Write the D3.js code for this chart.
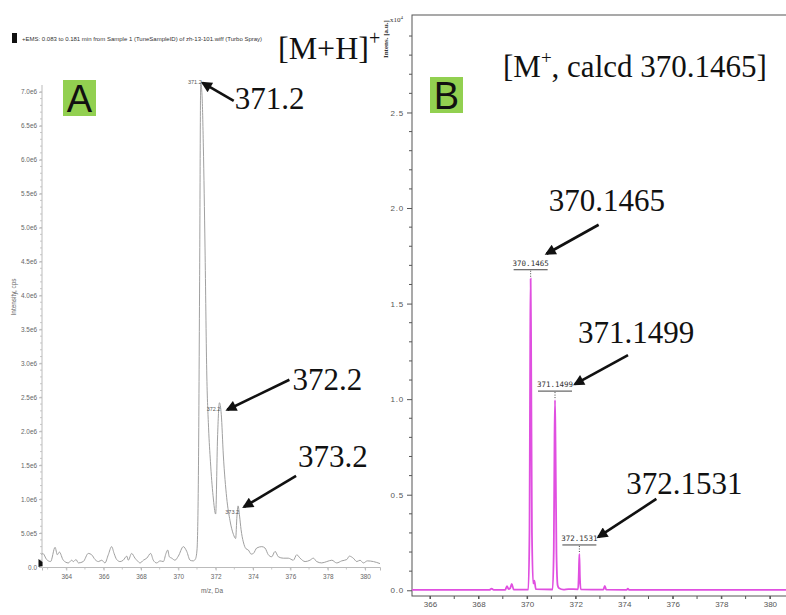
<!DOCTYPE html>
<html><head><meta charset="utf-8">
<script src="https://cdn.jsdelivr.net/npm/d3@7"></script>
<style>
body{margin:0;background:#fff;}
svg{display:block;}
</style></head><body>
<svg id="chart" width="786" height="615"></svg>
<script>
// ---------- Panel A: ESI-MS profile (m/z vs intensity, cps) ----------
const esiMz = [362.68,362.74,362.95,363.16,363.40,363.52,363.63,363.84,364.11,364.29,364.38,364.52,364.65,364.91,
  365.18,365.36,365.54,365.72,365.90,366.07,366.25,366.43,366.56,366.70,366.88,367.05,367.24,367.32,367.50,367.68,
  367.81,367.95,368.13,368.31,368.52,368.66,368.84,369.02,369.20,369.34,369.43,369.52,369.65,369.82,370.00,370.27,
  370.45,370.63,370.80,370.92,371.00,371.08,371.14,371.20,371.27,371.34,371.43,371.52,371.62,371.72,371.86,372.00,
  372.10,372.20,372.30,372.41,372.59,372.77,372.95,373.07,373.14,373.20,373.28,373.36,373.48,373.62,373.75,373.90,
  374.02,374.20,374.47,374.64,374.82,375.00,375.18,375.36,375.62,375.89,376.16,376.34,376.52,376.79,377.05,377.23,
  377.41,377.68,377.95,378.22,378.48,378.75,379.02,379.16,379.37,379.56,379.73,379.91,380.12,380.45,380.80];
const esiIntensity = [0.18e6,0.20e6,0.11e6,0.08e6,0.29e6,0.18e6,0.22e6,0.10e6,0.06e6,0.10e6,0.08e6,0.11e6,0.06e6,0.08e6,
  0.20e6,0.18e6,0.11e6,0.08e6,0.10e6,0.06e6,0.18e6,0.30e6,0.20e6,0.11e6,0.08e6,0.10e6,0.16e6,0.10e6,0.20e6,0.13e6,
  0.09e6,0.06e6,0.10e6,0.13e6,0.20e6,0.10e6,0.06e6,0.09e6,0.08e6,0.20e6,0.25e6,0.15e6,0.13e6,0.10e6,0.16e6,0.30e6,
  0.23e6,0.10e6,0.09e6,0.12e6,0.25e6,1.50e6,4.20e6,7.13e6,6.95e6,6.20e6,4.70e6,2.90e6,2.05e6,1.55e6,1.05e6,0.78e6,
  1.90e6,2.42e6,2.25e6,1.65e6,1.02e6,0.68e6,0.48e6,0.42e6,0.75e6,0.90e6,0.75e6,0.55e6,0.37e6,0.27e6,0.25e6,0.19e6,
  0.20e6,0.28e6,0.30e6,0.28e6,0.18e6,0.15e6,0.23e6,0.15e6,0.13e6,0.13e6,0.10e6,0.18e6,0.13e6,0.08e6,0.10e6,0.13e6,
  0.08e6,0.06e6,0.08e6,0.10e6,0.06e6,0.09e6,0.11e6,0.16e6,0.13e6,0.08e6,0.10e6,0.06e6,0.09e6,0.08e6,0.05e6];
const esiPeakMz = [371.2, 372.2, 373.2];
const esiPeakIntensity = [7.13e6, 2.42e6, 0.90e6];
const esiPeakLabels = ["371.2", "372.2", "373.2"];
const esiYTicks = [0,5e5,1e6,1.5e6,2e6,2.5e6,3e6,3.5e6,4e6,4.5e6,5e6,5.5e6,6e6,6.5e6,7e6];
const esiYTickLabels = ["0.0","5.0e5","1.0e6","1.5e6","2.0e6","2.5e6","3.0e6","3.5e6","4.0e6","4.5e6","5.0e6","5.5e6","6.0e6","6.5e6","7.0e6"];
const esiXTicks = [364,366,368,370,372,374,376,378,380];
const esiXTickLabels = ["364","366","368","370","372","374","376","378","380"];

// ---------- Panel B: high-resolution MS profile (m/z vs intensity, a.u.) ----------
const hrMz = [365.26,368.45,368.54,368.62,369.10,369.17,369.24,369.30,369.37,369.45,370.05,370.10,370.13,370.1465,
  370.165,370.20,370.25,370.30,370.36,371.05,371.10,371.13,371.1499,371.17,371.21,371.26,371.32,371.50,371.70,
  372.10,372.13,372.1531,372.175,372.21,373.14,373.20,373.26,374.10,374.15,374.20,381.30];
const hrIntensity = [20,20,90,20,20,220,60,100,330,30,30,3200,13200,16300,
  13000,3000,350,500,60,40,2200,8000,9950,7800,1900,250,100,30,60,
  50,900,1900,700,50,30,230,30,20,90,20,20];
const hrPeakMz = [370.1465, 371.1499, 372.1531];
const hrPeakIntensity = [16300, 9950, 1900];
const hrPeakLabels = ["370.1465", "371.1499", "372.1531"];
const hrYTicks = [0, 5000, 10000, 15000, 20000, 25000];
const hrYTickLabels = ["0.0", "0.5", "1.0", "1.5", "2.0", "2.5"];
const hrXTicks = [366,368,370,372,374,376,378,380];
const hrXTickLabels = ["366","368","370","372","374","376","378","380"];

const svg = d3.select("#chart");
svg.append("rect").attr("width", 786).attr("height", 615).attr("fill", "#fff");

const defs = svg.append("defs");
defs.append("marker").attr("id", "arrowHead")
  .attr("viewBox", "0 0 10 10").attr("refX", 8).attr("refY", 5)
  .attr("markerWidth", 14).attr("markerHeight", 11)
  .attr("markerUnits", "userSpaceOnUse").attr("orient", "auto")
  .append("path").attr("d", "M0,0 L10,5 L0,10 Z").attr("fill", "#111");

const sansFont = "'Liberation Sans', Arial, sans-serif";
const serifFont = "'Liberation Serif', 'Times New Roman', serif";
const monoFont = "'DejaVu Sans Mono', 'Liberation Mono', monospace";

// ================= Panel A =================
const xA = d3.scaleLinear().domain([362.7, 380.8]).range([42, 380]);
const yA = d3.scaleLinear().domain([0, 7.1e6]).range([567, 85]);
const gA = svg.append("g");

// header line
gA.append("rect").attr("x", 12).attr("y", 33).attr("width", 5).attr("height", 10).attr("fill", "#111");
gA.append("text").attr("x", 22).attr("y", 41).attr("font-family", sansFont).attr("font-size", 6)
  .attr("fill", "#333")
  .text("+EMS: 0.083 to 0.181 min from Sample 1 (TuneSampleID) of zh-13-101.wiff (Turbo Spray)");

// minor ticks
gA.append("g").selectAll("line").data(d3.range(1e5, 7.05e6, 1e5)).join("line")
  .attr("x1", 40).attr("x2", 42).attr("y1", d => yA(d)).attr("y2", d => yA(d))
  .attr("stroke", "#bbb").attr("stroke-width", 0.8);
gA.append("g").selectAll("line").data(d3.range(363, 381, 1)).join("line")
  .attr("x1", d => xA(d)).attr("x2", d => xA(d)).attr("y1", 567).attr("y2", 569.5)
  .attr("stroke", "#bbb").attr("stroke-width", 0.8);

const axA_y = gA.append("g").attr("transform", "translate(42,0)")
  .call(d3.axisLeft(yA).tickValues(esiYTicks).tickSize(3).tickPadding(2)
    .tickFormat((d, i) => esiYTickLabels[i]));
const axA_x = gA.append("g").attr("transform", "translate(0,567)")
  .call(d3.axisBottom(xA).tickValues(esiXTicks).tickSize(3.5).tickPadding(4)
    .tickFormat((d, i) => esiXTickLabels[i]));
[axA_y, axA_x].forEach(a => {
  a.select(".domain").attr("stroke", "#bbb");
  a.selectAll(".tick line").attr("stroke", "#bbb");
  a.selectAll("text").attr("font-family", sansFont).attr("font-size", 6.4).attr("fill", "#666");
});
axA_y.select(".domain").attr("d", "M0,85V567");

// small marker at origin
gA.append("path").attr("d", "M38.5,559 L42.5,562 L42.5,566 L38.5,567 Z").attr("fill", "#111");

gA.append("text").attr("transform", "translate(16,297) rotate(-90)").attr("text-anchor", "middle")
  .attr("font-family", sansFont).attr("font-size", 6.4).attr("fill", "#666").text("Intensity, cps");
gA.append("text").attr("x", 212).attr("y", 593).attr("text-anchor", "middle")
  .attr("font-family", sansFont).attr("font-size", 6.4).attr("fill", "#666").text("m/z, Da");

// spectrum trace
const esiPoints = esiMz.map((m, i) => [m, esiIntensity[i]]);
gA.append("path").datum(esiPoints)
  .attr("d", d3.line().x(d => xA(d[0])).y(d => yA(d[1])).curve(d3.curveMonotoneX))
  .attr("fill", "none").attr("stroke", "#a0a0a0").attr("stroke-width", 1);

// instrument peak labels
const esiLabelDy = [1, 8, 8];
gA.append("g").selectAll("text").data(esiPeakMz).join("text")
  .attr("x", d => xA(d) + 1).attr("y", (d, i) => yA(esiPeakIntensity[i]) + esiLabelDy[i])
  .attr("text-anchor", "end").attr("font-family", sansFont).attr("font-size", 5.5).attr("fill", "#555")
  .text((d, i) => esiPeakLabels[i]);

// panel letter
gA.append("rect").attr("x", 63).attr("y", 80).attr("width", 33).attr("height", 36).attr("fill", "#92d050");
gA.append("text").attr("x", 79.5).attr("y", 112).attr("text-anchor", "middle")
  .attr("font-family", sansFont).attr("font-size", 38).attr("fill", "#111").text("A");

// ion annotation
const ionA = gA.append("text").attr("x", 278).attr("y", 59)
  .attr("font-family", serifFont).attr("font-size", 32).attr("fill", "#111");
ionA.append("tspan").text("[M+H]");
ionA.append("tspan").attr("dy", -14).attr("font-size", 20).text("+");

// callout arrows and big labels (tail offsets from the arrow tip)
const esiCallout = [
  { tip: [2, 0], tail: [31, 18], text: [1, 8] },
  { tip: [8, 7], tail: [62, -30], text: [3, 10] },
  { tip: [6, 1], tail: [52, -31], text: [2, -9] }
];
esiPeakMz.forEach((m, i) => {
  const c = esiCallout[i];
  const tx = xA(m) + c.tip[0], ty = yA(esiPeakIntensity[i]) + c.tip[1];
  const sx = tx + c.tail[0], sy = ty + c.tail[1];
  gA.append("line").attr("x1", sx).attr("y1", sy).attr("x2", tx).attr("y2", ty)
    .attr("stroke", "#111").attr("stroke-width", 2.6).attr("marker-end", "url(#arrowHead)");
  gA.append("text").attr("x", sx + c.text[0]).attr("y", sy + c.text[1])
    .attr("font-family", serifFont).attr("font-size", 31).attr("fill", "#111").text(esiPeakLabels[i]);
});

// ================= Panel B =================
const xB = d3.scaleLinear().domain([365.26, 381.24]).range([412, 800]);
const yB = d3.scaleLinear().domain([-300, 30100]).range([596, 15]);
const gB = svg.append("g");

gB.append("rect").attr("x", 412).attr("y", 15).attr("width", 400).attr("height", 581)
  .attr("fill", "none").attr("stroke", "#555").attr("stroke-width", 1);

gB.append("g").selectAll("line").data(d3.range(1000, 30001, 1000).filter(v => v % 5000 !== 0)).join("line")
  .attr("x1", 409).attr("x2", 412).attr("y1", d => yB(d)).attr("y2", d => yB(d))
  .attr("stroke", "#555").attr("stroke-width", 1);
gB.append("g").selectAll("line").data(d3.range(366, 381, 1)).join("line")
  .attr("x1", d => xB(d)).attr("x2", d => xB(d)).attr("y1", 596).attr("y2", 599)
  .attr("stroke", "#555").attr("stroke-width", 1);

const axB_y = gB.append("g").attr("transform", "translate(412,0)")
  .call(d3.axisLeft(yB).tickValues(hrYTicks).tickSize(5).tickPadding(3)
    .tickFormat((d, i) => hrYTickLabels[i]));
const axB_x = gB.append("g").attr("transform", "translate(0,596)")
  .call(d3.axisBottom(xB).tickValues(hrXTicks).tickSize(3).tickPadding(2)
    .tickFormat((d, i) => hrXTickLabels[i]));
[axB_y, axB_x].forEach(a => {
  a.select(".domain").remove();
  a.selectAll(".tick line").attr("stroke", "#555");
  a.selectAll("text").attr("font-family", sansFont).attr("font-size", 8).attr("fill", "#555");
});
axB_y.selectAll(".tick text").attr("letter-spacing", 0.8);

// magnitude and axis title
const magB = gB.append("text").attr("x", 390).attr("y", 22)
  .attr("font-family", serifFont).attr("font-size", 7).attr("fill", "#333");
magB.append("tspan").text("x10");
magB.append("tspan").attr("dy", -3).attr("font-size", 5).text("4");
gB.append("text").attr("transform", "translate(388,58) rotate(-90)")
  .attr("font-family", serifFont).attr("font-size", 7).attr("font-weight", "bold").attr("fill", "#333")
  .text("Intens. [a.u.]");

// spectrum trace
const hrPoints = hrMz.map((m, i) => [m, hrIntensity[i]]);
gB.append("path").datum(hrPoints)
  .attr("d", d3.line().x(d => xB(d[0])).y(d => yB(d[1])).curve(d3.curveMonotoneX))
  .attr("fill", "none").attr("stroke", "#e04fe0").attr("stroke-width", 1.8);

// peak picking labels with underline and dotted leader
hrPeakMz.forEach((m, i) => {
  const px = xB(m), py = yB(hrPeakIntensity[i]);
  gB.append("text").attr("x", px).attr("y", py - 13).attr("text-anchor", "middle")
    .attr("font-family", monoFont).attr("font-size", 7.5).attr("fill", "#333").text(hrPeakLabels[i]);
  gB.append("line").attr("x1", px - 17).attr("x2", px + 17).attr("y1", py - 9).attr("y2", py - 9)
    .attr("stroke", "#444").attr("stroke-width", 1);
  gB.append("line").attr("x1", px).attr("x2", px).attr("y1", py - 8).attr("y2", py - 2)
    .attr("stroke", "#444").attr("stroke-width", 1).attr("stroke-dasharray", "1,1.5");
});

// panel letter
gB.append("rect").attr("x", 430).attr("y", 77).attr("width", 33).attr("height", 36).attr("fill", "#92d050");
gB.append("text").attr("x", 446.5).attr("y", 109).attr("text-anchor", "middle")
  .attr("font-family", sansFont).attr("font-size", 38).attr("fill", "#111").text("B");

// ion annotation
const ionB = gB.append("text").attr("x", 503).attr("y", 77)
  .attr("font-family", serifFont).attr("font-size", 31).attr("fill", "#111");
ionB.append("tspan").text("[M");
ionB.append("tspan").attr("dy", -13).attr("font-size", 19).text("+");
ionB.append("tspan").attr("dy", 13).text(", calcd 370.1465]");

// callout arrows and big labels
const hrCallout = [
  { tip: [16, -25], tail: [52, -29], text: [-50, -14] },
  { tip: [20, -16], tail: [53, -29], text: [-50, -12] },
  { tip: [19, -17], tail: [58, -38], text: [-30, -5] }
];
hrPeakMz.forEach((m, i) => {
  const c = hrCallout[i];
  const tx = xB(m) + c.tip[0], ty = yB(hrPeakIntensity[i]) + c.tip[1];
  const sx = tx + c.tail[0], sy = ty + c.tail[1];
  gB.append("line").attr("x1", sx).attr("y1", sy).attr("x2", tx).attr("y2", ty)
    .attr("stroke", "#111").attr("stroke-width", 2.6).attr("marker-end", "url(#arrowHead)");
  gB.append("text").attr("x", sx + c.text[0]).attr("y", sy + c.text[1])
    .attr("font-family", serifFont).attr("font-size", 31).attr("fill", "#111").text(hrPeakLabels[i]);
});
</script>
</body></html>
